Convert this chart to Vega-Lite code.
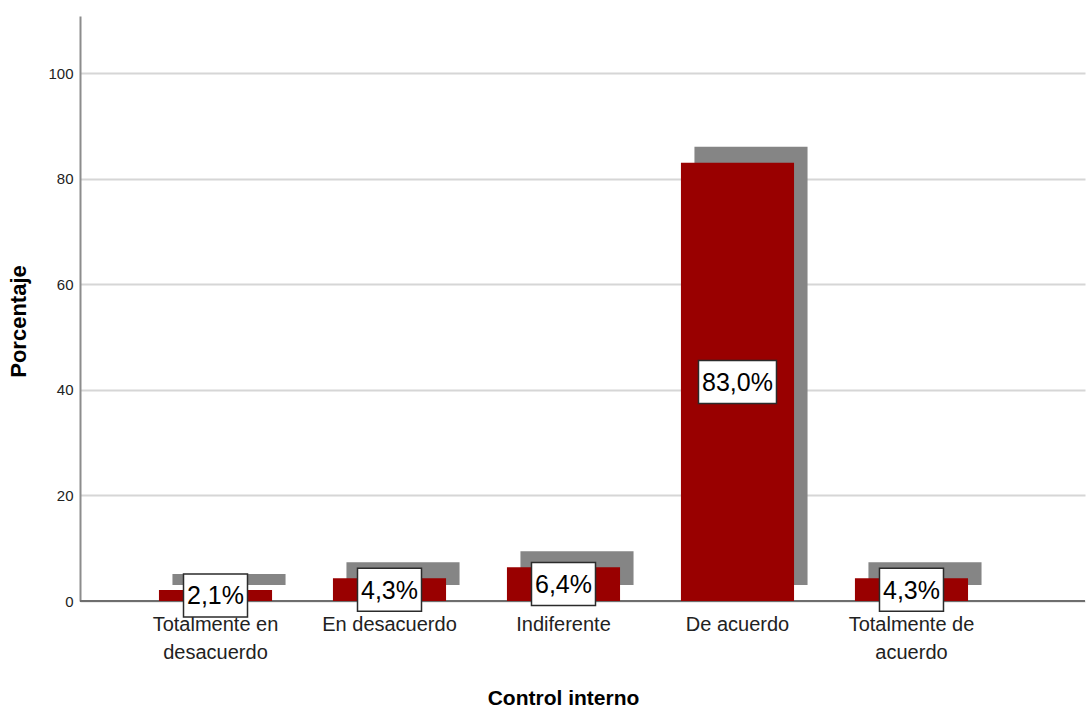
{
  "$schema": "https://vega.github.io/schema/vega-lite/v6.json",
  "width": 1005,
  "height": 585,
  "autosize": {"type": "none"},
  "padding": {"left": 80, "top": 16, "right": 1, "bottom": 108},
  "background": "white",
  "config": {"view": {"stroke": null}},
  "data": {
    "values": [
      {"categoria": "Totalmente en desacuerdo", "Porcentaje": 2.1, "etiqueta": "2,1%"},
      {"categoria": "En desacuerdo", "Porcentaje": 4.3, "etiqueta": "4,3%"},
      {"categoria": "Indiferente", "Porcentaje": 6.4, "etiqueta": "6,4%"},
      {"categoria": "De acuerdo", "Porcentaje": 83.0, "etiqueta": "83,0%"},
      {"categoria": "Totalmente de acuerdo", "Porcentaje": 4.3, "etiqueta": "4,3%"}
    ]
  },
  "encoding": {
    "x": {
      "field": "categoria",
      "type": "nominal",
      "sort": null,
      "scale": {"paddingInner": 0.35, "paddingOuter": 0.563, "align": 0.403},
      "axis": {
        "title": "Control interno",
        "titleFont": "Liberation Sans",
        "titleFontSize": 21,
        "titleFontWeight": "bold",
        "titleColor": "#000000",
        "titlePadding": 25,
        "titleX": 483,
        "labelAngle": 0,
        "labelFont": "Liberation Sans",
        "labelFontSize": 20,
        "labelColor": "#222222",
        "labelLineHeight": 28,
        "labelPadding": 13,
        "labelExpr": "datum.label == 'Totalmente en desacuerdo' ? ['Totalmente en', 'desacuerdo'] : datum.label == 'Totalmente de acuerdo' ? ['Totalmente de', 'acuerdo'] : datum.label",
        "ticks": false,
        "domain": false,
        "grid": false
      }
    }
  },
  "layer": [
    {
      "mark": {"type": "bar", "color": "#858585", "xOffset": 13.5, "x2Offset": 13.5, "yOffset": -16, "y2Offset": -16},
      "encoding": {
        "y": {
          "field": "Porcentaje",
          "type": "quantitative",
          "scale": {"domain": [0, 110.8], "nice": false, "zero": true},
          "axis": {
            "title": "Porcentaje",
            "titleFont": "Liberation Sans",
            "titleFontSize": 22,
            "titleFontWeight": "bold",
            "titleColor": "#000000",
            "titlePadding": 17,
            "titleY": 305,
            "values": [0, 20, 40, 60, 80, 100],
            "labelFont": "Liberation Sans",
            "labelFontSize": 15,
            "labelColor": "#222222",
            "labelPadding": 7,
            "ticks": false,
            "domain": true,
            "domainColor": "#8c8c8c",
            "domainWidth": 2,
            "grid": true,
            "gridColor": "#d6d6d6",
            "gridWidth": 2
          }
        }
      }
    },
    {
      "mark": {"type": "rule", "color": "#6e6e6e", "strokeWidth": 2},
      "encoding": {"y": {"datum": 0, "type": "quantitative"}, "x": {"value": 0}, "x2": {"value": 1005}}
    },
    {
      "mark": {"type": "bar", "color": "#990000"},
      "encoding": {"y": {"field": "Porcentaje", "type": "quantitative"}}
    },
    {
      "transform": [{"calculate": "datum.Porcentaje / 2", "as": "medio"}, {"filter": "datum.Porcentaje < 10"}],
      "mark": {"type": "point", "shape": "M-1,-0.672L1,-0.672L1,0.672L-1,0.672Z", "size": 4096, "filled": true, "fill": "white", "stroke": "#2b2b2b", "strokeWidth": 1.5, "opacity": 1},
      "encoding": {"y": {"field": "medio", "type": "quantitative"}}
    },
    {
      "transform": [{"calculate": "datum.Porcentaje / 2", "as": "medio"}, {"filter": "datum.Porcentaje >= 10"}],
      "mark": {"type": "point", "shape": "M-1,-0.551L1,-0.551L1,0.551L-1,0.551Z", "size": 6084, "filled": true, "fill": "white", "stroke": "#2b2b2b", "strokeWidth": 1.5, "opacity": 1},
      "encoding": {"y": {"field": "medio", "type": "quantitative"}}
    },
    {
      "transform": [{"calculate": "datum.Porcentaje / 2", "as": "medio"}],
      "mark": {"type": "text", "font": "Liberation Sans", "fontSize": 25, "color": "#000000", "baseline": "middle", "align": "center", "dy": 1},
      "encoding": {"y": {"field": "medio", "type": "quantitative"}, "text": {"field": "etiqueta"}}
    }
  ]
}
